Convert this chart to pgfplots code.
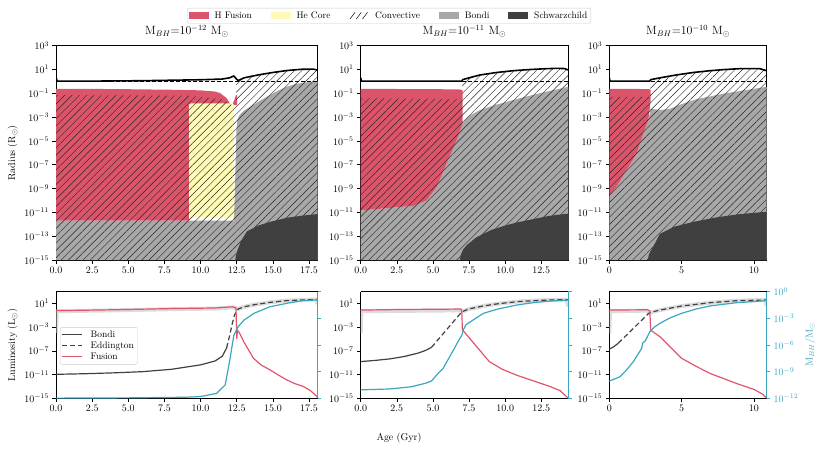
\documentclass[border=0pt]{standalone}
\usepackage{pgfplots}
\pgfplotsset{compat=1.18}
\usetikzlibrary{patterns.meta}
\definecolor{hfus}{RGB}{220,84,106}
\definecolor{hecore}{RGB}{255,251,182}
\definecolor{bondi}{RGB}{168,168,168}
\definecolor{schw}{RGB}{64,64,64}
\definecolor{bhc}{RGB}{58,166,192}
\definecolor{fusl}{RGB}{226,84,108}
\pgfplotsset{
  base/.style={scale only axis, anchor=south west, tick align=outside,
    axis line style={line width=0.8pt}, major tick length=3.5bp,
    major tick style={line width=0.6pt, black}, minor tick num=0,
    ticklabel style={font=\normalsize}},
  topax/.style={base, tick pos=left, height=214.3bp, ymin=-15, ymax=3,
    ytick={-15,-13,-11,-9,-7,-5,-3,-1,1,3},
    yticklabels={$10^{-15}$,$10^{-13}$,$10^{-11}$,$10^{-9}$,$10^{-7}$,$10^{-5}$,$10^{-3}$,$10^{-1}$,$10^{1}$,$10^{3}$},
    title style={font=\large, yshift=-1pt}},
  botax/.style={base, tick pos=left, height=106.6bp, ymin=-15, ymax=3,
    axis y line*=left, axis x line*=box,
    ytick={-15,-11,-7,-3,1},
    yticklabels={$10^{-15}$,$10^{-11}$,$10^{-7}$,$10^{-3}$,$10^{1}$}},
  twinax/.style={base, height=106.6bp, ymin=-12, ymax=0,
    axis x line=none, axis y line*=right,
    ytick={-12,-9,-6,-3,0},
    axis line style={bhc, line width=0.8pt},
    ytick style={bhc, line width=0.6pt},
    yticklabel style={bhc}},
  xdec/.style={xticklabel style={/pgf/number format/.cd, fixed, fixed zerofill, precision=1}},
  hatch/.style={pattern={Lines[angle=45,distance=5.2pt,line width=0.45pt]}, pattern color=black!85, draw=none},
  band/.style={draw=black!25, line width=4pt, opacity=0.55, line join=round},
  radl/.style={black, line width=1.6pt, line join=round},
  dashl/.style={black, line width=0.9pt, dash pattern=on 4pt off 2pt},
  fusline/.style={fusl, line width=1.2pt, line join=round},
  bonline/.style={schw, line width=1.2pt},
  eddline/.style={schw, line width=1.2pt, dash pattern=on 5pt off 3pt},
  bhline/.style={bhc, line width=1.2pt, line join=round},
}
\newcommand{\legfont}{\fontsize{9.5}{11}\selectfont}
\begin{document}
\begin{tikzpicture}
\useasboundingbox (0,0) rectangle (822bp,-453bp);

% ================= TOP LEFT =================
\begin{axis}[topax, xdec, at={(56bp,-260bp)}, width=261.7bp, xmin=0, xmax=18.1,
  xtick={0,2.5,5,7.5,10,12.5,15,17.5},
  ylabel={Radius (R$_\odot$)},
  title={$\mathrm{M}_{BH}$=10$^{-12}$ M$_\odot$},
  legend columns=5,
  legend style={at={(0.5006,1.14)}, anchor=west, draw=black!20, rounded corners=2pt,
    font=\legfont, inner sep=1.5pt,
    /tikz/column 1/.style={column sep=4pt},
    /tikz/column 3/.style={column sep=4pt},
    /tikz/column 5/.style={column sep=4pt},
    /tikz/column 7/.style={column sep=4pt},
    /tikz/column 9/.style={column sep=4pt},
    /tikz/column 2/.style={column sep=17pt},
    /tikz/column 4/.style={column sep=17pt},
    /tikz/column 6/.style={column sep=17pt},
    /tikz/column 8/.style={column sep=17pt}}]
\addlegendimage{legend image code/.code={\fill[hfus, draw=none, sharp corners] (0cm,-0.12cm) rectangle (0.7cm,0.12cm);}}\addlegendentry{H Fusion}
\addlegendimage{legend image code/.code={\fill[hecore, draw=none, sharp corners] (0cm,-0.12cm) rectangle (0.7cm,0.12cm);}}\addlegendentry{He Core}
\addlegendimage{legend image code/.code={\path[draw=none, fill=none] (0cm,-0.12cm) rectangle (0.7cm,0.12cm);
  \draw[black, line width=0.5pt, sharp corners] (0.02cm,-0.12cm) -- (0.2cm,0.12cm) (0.24cm,-0.12cm) -- (0.42cm,0.12cm) (0.46cm,-0.12cm) -- (0.64cm,0.12cm);}}\addlegendentry{Convective}
\addlegendimage{legend image code/.code={\fill[bondi, draw=none, sharp corners] (0cm,-0.12cm) rectangle (0.7cm,0.12cm);}}\addlegendentry{Bondi}
\addlegendimage{legend image code/.code={\fill[schw, draw=none, sharp corners] (0cm,-0.12cm) rectangle (0.7cm,0.12cm);}}\addlegendentry{Schwarzchild}
\addplot[forget plot, fill=bondi, draw=none] coordinates {(0,-15) (0,-11.7) (12.3,-11.7) (12.4,-8) (12.48,-4) (12.55,-3.2) (12.7,-2.8) (13.0,-2.45) (13.66,-1.96) (14.2,-1.55) (14.8,-1.14) (15.4,-0.75) (15.97,-0.44) (16.5,-0.25) (17.1,-0.1) (18.1,0.0) (18.1,-15)} -- cycle;
\addplot[forget plot, fill=hfus, draw=none] coordinates {(0,-11.7) (0,-0.62) (4,-0.64) (8,-0.7) (10,-0.75) (11,-0.85) (11.35,-0.98) (11.8,-1.4) (12.15,-2.1) (12.35,-1.5) (12.45,-1.15) (12.52,-1.15) (12.52,-2.0) (9.2,-2.0) (9.2,-11.7)} -- cycle;
\addplot[forget plot, fill=hecore, draw=none] coordinates {(9.2,-11.45) (9.2,-1.95) (9.35,-1.84) (12.15,-1.84) (12.3,-1.95) (12.32,-11.3) (12.2,-11.45)} -- cycle;
\addplot[forget plot, hatch] coordinates {(0,-15) (0,-1.15) (9.2,-1.2) (11.5,-1.5) (12.2,-2.0) (12.45,-2.0) (12.45,0.25) (12.6,0.07) (13,0.3) (14,0.55) (15,0.75) (16,0.92) (17,1.02) (17.8,1.03) (18.1,0.95) (18.1,-15)} -- cycle;
\addplot[forget plot, fill=schw, draw=none] coordinates {(12.4,-15) (12.45,-14.6) (12.55,-14.2) (12.8,-13.4) (13.2,-12.6) (14,-12.1) (14.8,-11.8) (15.97,-11.45) (17,-11.28) (18.1,-11.14) (18.1,-15)} -- cycle;
\addplot[forget plot, dashl] coordinates {(0,-0.02) (18.1,-0.02)};
\addplot[forget plot, radl] coordinates {(0,0.35) (0.08,0.03) (3,0.03) (6,0.06) (8,0.1) (10,0.14) (11.5,0.2) (12.0,0.3) (12.3,0.46) (12.45,0.25) (12.6,0.07) (13,0.3) (14,0.55) (15,0.75) (16,0.92) (17,1.02) (17.8,1.03) (18.1,0.95)};
\end{axis}

% ================= TOP MIDDLE =================
\begin{axis}[topax, xdec, at={(360.7bp,-260bp)}, width=207.6bp, xmin=0, xmax=14.37,
  xtick={0,2.5,5,7.5,10,12.5},
  title={$\mathrm{M}_{BH}$=10$^{-11}$ M$_\odot$}]
\addplot[fill=bondi, draw=none] coordinates {(0,-15) (0,-10.85) (1.34,-10.7) (3.65,-10.45) (4.57,-10.0) (5.26,-8.85) (5.95,-6.9) (6.64,-4.95) (7.06,-3.5) (7.5,-2.9) (8.25,-2.4) (9.4,-1.95) (10.56,-1.56) (11.7,-1.2) (12.87,-0.86) (14.37,-0.45) (14.37,-15)} -- cycle;
\addplot[fill=hfus, draw=none] coordinates {(0,-10.85) (0,-0.62) (3,-0.64) (6,-0.66) (6.9,-0.68) (7.06,-0.75) (7.06,-3.5) (6.64,-4.95) (5.95,-6.9) (5.26,-8.85) (4.57,-10.0) (3.65,-10.45) (1.34,-10.7)} -- cycle;
\addplot[hatch] coordinates {(0,-15) (0,-1.4) (7.0,-1.5) (7.06,0.15) (7.5,0.3) (8.25,0.54) (9.4,0.75) (10.56,0.9) (11.7,1.0) (12.87,1.07) (13.6,1.1) (14.1,1.08) (14.37,0.96) (14.37,-15)} -- cycle;
\addplot[fill=schw, draw=none] coordinates {(6.87,-15) (6.95,-14.5) (7.1,-14.1) (7.34,-13.75) (8,-13.1) (9,-12.5) (10,-12.1) (11,-11.8) (12,-11.55) (13,-11.3) (14.37,-11.1) (14.37,-15)} -- cycle;
\addplot[dashl] coordinates {(0,-0.02) (14.37,-0.02)};
\addplot[radl] coordinates {(0,0.3) (0.06,0.03) (7.0,0.03) (7.06,0.15) (7.5,0.3) (8.25,0.54) (9.4,0.75) (10.56,0.9) (11.7,1.0) (12.87,1.07) (13.6,1.1) (14.1,1.08) (14.37,0.96)};
\end{axis}

% ================= TOP RIGHT =================
\begin{axis}[topax, at={(609.3bp,-260bp)}, width=157.4bp, xmin=0, xmax=10.88,
  xtick={0,5,10},
  title={$\mathrm{M}_{BH}$=10$^{-10}$ M$_\odot$}]
\addplot[fill=bondi, draw=none] coordinates {(0,-15) (0,-9.7) (0.5,-8.85) (1.2,-7.45) (1.9,-6.04) (2.35,-4.36) (2.7,-3.24) (2.86,-2.3) (3.5,-2.4) (4.2,-2.3) (5,-1.9) (6,-1.5) (8,-1.0) (10.88,-0.45) (10.88,-15)} -- cycle;
\addplot[fill=hfus, draw=none] coordinates {(0,-9.7) (0,-0.62) (2.5,-0.64) (2.8,-0.66) (2.86,-0.72) (2.86,-1.6) (2.7,-3.24) (2.35,-4.36) (1.9,-6.04) (1.2,-7.45) (0.5,-8.85)} -- cycle;
\addplot[hatch] coordinates {(0,-15) (0,-1.3) (2.8,-1.3) (2.86,0.15) (3.5,0.3) (4.66,0.55) (5.8,0.75) (6.96,0.9) (8,1.0) (9,1.07) (10.4,1.07) (10.88,0.9) (10.88,-15)} -- cycle;
\addplot[fill=schw, draw=none] coordinates {(2.65,-15) (2.75,-14.5) (3.09,-13.75) (3.5,-12.8) (4.5,-12.2) (5.8,-11.8) (7.5,-11.4) (9,-11.15) (10.88,-10.95) (10.88,-15)} -- cycle;
\addplot[dashl] coordinates {(0,-0.02) (10.88,-0.02)};
\addplot[radl] coordinates {(0,0.3) (0.05,0.03) (2.8,0.03) (2.86,0.15) (3.5,0.3) (4.66,0.55) (5.8,0.75) (6.96,0.9) (8,1.0) (9,1.07) (10.4,1.07) (10.88,0.9)};
\end{axis}

% ================= BOTTOM LEFT =================
\begin{axis}[botax, xdec, at={(56bp,-398.3bp)}, width=261.7bp, xmin=0, xmax=18.1,
  xtick={0,2.5,5,7.5,10,12.5,15,17.5},
  ylabel={Luminosity (L$_\odot$)},
  legend cell align=left,
  legend style={at={(0.0153,0.4925)}, anchor=west, draw=black!20, rounded corners=2pt,
    font=\legfont, inner sep=1.5pt, row sep=-1pt,
    /tikz/column 1/.style={column sep=6pt}}]
\addlegendimage{legend image code/.code={\draw[schw, line width=1.2pt, sharp corners] (0cm,0cm) -- (0.7cm,0cm);}}\addlegendentry{Bondi}
\addlegendimage{legend image code/.code={\draw[schw, line width=1.2pt, sharp corners, dash pattern=on 5pt off 3pt] (0cm,0cm) -- (0.7cm,0cm);}}\addlegendentry{Eddington}
\addlegendimage{legend image code/.code={\draw[fusl, line width=1.2pt, sharp corners] (0cm,0cm) -- (0.7cm,0cm);}}\addlegendentry{Fusion}
\addplot[forget plot, band] coordinates {(0,-4) (0.05,-0.3) (4,-0.15) (8,0.05) (11,0.15) (12.2,0.35) (12.45,0.2) (12.6,0.08) (13,0.45) (13.7,0.8) (14.8,1.2) (16,1.5) (17.1,1.6) (18.0,1.7) (18.1,0.9)};
\addplot[forget plot, bonline] coordinates {(0,-10.95) (2,-10.85) (4,-10.7) (6,-10.5) (8,-10.1) (10,-9.35) (11,-8.7) (11.5,-7.9) (11.8,-6.5)};
\addplot[forget plot, eddline] coordinates {(11.8,-6.5) (12.0,-4.5) (12.2,-2.3) (12.35,-0.9) (12.6,0.08) (13,0.45) (13.7,0.8) (14.8,1.2) (16,1.5) (17.1,1.6) (18.1,1.7)};
\addplot[forget plot, fusline] coordinates {(0,-0.2) (4,-0.05) (8,0.15) (11,0.25) (12.2,0.45) (12.45,0.3) (12.5,-4.9) (12.55,-3.5) (12.7,-4.0) (13.0,-5.5) (13.66,-8.25) (14.2,-9.4) (14.8,-10.2) (15.4,-11.1) (15.97,-11.9) (16.5,-12.5) (17.1,-13.0) (17.6,-13.7) (18.05,-14.7) (18.1,-15)};
\end{axis}
\begin{axis}[twinax, at={(56bp,-398.3bp)}, width=261.7bp, xmin=0, xmax=18.1, yticklabels={}]
\addplot[bhline] coordinates {(0,-11.98) (5,-11.95) (9,-11.88) (10,-11.8) (11.1,-11.45) (11.7,-10.5) (12.0,-7.9) (12.3,-4.9) (12.6,-3.94) (13.0,-3.2) (13.7,-2.43) (14.8,-1.69) (16,-1.3) (17.1,-1.0) (18.05,-0.93) (18.1,-0.95)};
\end{axis}

% ================= BOTTOM MIDDLE =================
\begin{axis}[botax, xdec, at={(360.7bp,-398.3bp)}, width=207.6bp, xmin=0, xmax=14.37,
  xtick={0,2.5,5,7.5,10,12.5},
  xlabel={Age (Gyr)},
  xlabel style={at={(axis description cs:0.1845,-0.375)}, anchor=center}]
\addplot[band] coordinates {(0,-4) (0.05,-0.3) (6.9,-0.15) (7.0,-0.4) (7.5,0.1) (8.5,0.6) (9.6,1.0) (11,1.35) (12.5,1.55) (14.25,1.65) (14.37,0.5)};
\addplot[bonline] coordinates {(0,-8.8) (1,-8.6) (2,-8.35) (3,-7.95) (4,-7.35) (4.5,-6.9) (4.9,-6.4)};
\addplot[eddline] coordinates {(4.9,-6.4) (7.0,-0.4) (7.5,0.1) (8.5,0.6) (9.6,1.0) (11,1.35) (12.5,1.55) (14.0,1.65) (14.37,1.65)};
\addplot[fusline] coordinates {(0,-0.1) (3,0.0) (6,0.05) (6.95,0.08) (7.0,-0.5) (7.04,-3.5) (7.1,-3.6) (8,-6.2) (8.9,-8.8) (9.8,-10.1) (10.8,-11.1) (12,-12.1) (13.1,-13.0) (13.8,-13.7) (14.37,-15)};
\end{axis}
\begin{axis}[twinax, at={(360.7bp,-398.3bp)}, width=207.6bp, xmin=0, xmax=14.37, yticklabels={}]
\addplot[bhline] coordinates {(0,-11.05) (2,-10.95) (3.5,-10.7) (4.5,-10.3) (4.9,-10.05) (5.3,-9.3) (5.7,-8.63) (6.2,-7.2) (6.8,-5.44) (7.0,-4.9) (7.1,-4.3) (7.3,-3.7) (8,-2.95) (8.5,-2.43) (9.5,-1.95) (10.8,-1.5) (12,-1.22) (13.1,-1.05) (14.37,-0.94)};
\end{axis}

% ================= BOTTOM RIGHT =================
\begin{axis}[botax, at={(609.3bp,-398.3bp)}, width=157.4bp, xmin=0, xmax=10.88,
  xtick={0,5,10}]
\addplot[band] coordinates {(0,-4) (0.05,-0.3) (2.6,-0.2) (2.77,-0.55) (3.5,-0.1) (5,0.58) (6.96,1.14) (8.8,1.48) (10.8,1.6) (10.88,0.6)};
\addplot[bonline] coordinates {(0,-6.7) (0.3,-6.3) (0.62,-5.7)};
\addplot[eddline] coordinates {(0.62,-5.7) (2.77,-0.55) (3.5,-0.1) (5.0,0.58) (6.96,1.14) (8.8,1.48) (10.8,1.6) (10.88,1.6)};
\addplot[fusline] coordinates {(0,-0.1) (2.6,-0.05) (2.8,-0.2) (2.86,-3.5) (3.5,-4.6) (4.2,-6.3) (5.0,-8.25) (6.0,-9.6) (6.96,-10.8) (8.8,-12.5) (10.0,-13.5) (10.6,-14.3) (10.88,-15)};
\end{axis}
\begin{axis}[twinax, at={(609.3bp,-398.3bp)}, width=157.4bp, xmin=0, xmax=10.88,
  yticklabels={$10^{-12}$,$10^{-9}$,$10^{-6}$,$10^{-3}$,$10^{0}$},
  ylabel={$\mathrm{M}_{BH}/\mathrm{M}_\odot$}, ylabel style={bhc}]
\addplot[bhline] coordinates {(0,-10.06) (0.74,-9.57) (1.2,-8.8) (1.66,-7.88) (2.24,-6.37) (2.3,-5.8) (2.5,-5.5) (2.8,-4.5) (3.1,-4.0) (3.5,-3.56) (4.2,-2.95) (5.0,-2.43) (6.0,-1.95) (6.96,-1.6) (8.8,-1.24) (10.8,-1.01) (10.88,-1.0)};
\end{axis}
\end{tikzpicture}
\end{document}
